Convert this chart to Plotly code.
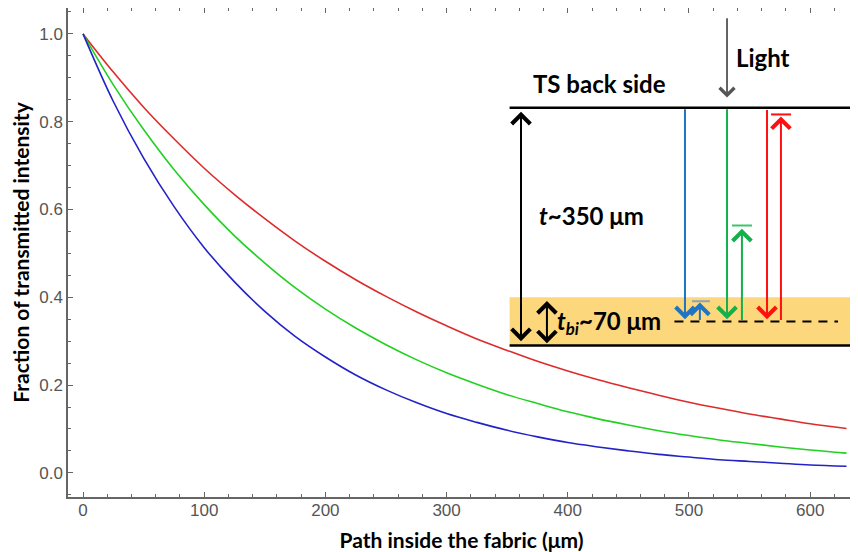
import plotly.graph_objects as go

# ---- data ----
path_um = [0, 25, 50, 75, 100, 125, 150, 175, 200, 225, 250, 275, 300, 325, 350,
           375, 400, 425, 450, 475, 500, 525, 550, 575, 600, 630]
red_frac = [1.000, 0.913, 0.833, 0.761, 0.694, 0.634, 0.579, 0.528, 0.482, 0.440,
            0.402, 0.367, 0.335, 0.305, 0.279, 0.254, 0.232, 0.212, 0.194, 0.177,
            0.161, 0.147, 0.134, 0.123, 0.112, 0.101]
green_frac = [1.000, 0.884, 0.782, 0.691, 0.611, 0.540, 0.478, 0.422, 0.373, 0.330,
              0.292, 0.258, 0.228, 0.202, 0.178, 0.158, 0.139, 0.123, 0.109, 0.096,
              0.085, 0.075, 0.067, 0.059, 0.052, 0.045]
blue_frac = [1.000, 0.846, 0.717, 0.607, 0.513, 0.435, 0.368, 0.311, 0.264, 0.223,
             0.189, 0.160, 0.135, 0.115, 0.097, 0.082, 0.069, 0.059, 0.050, 0.042,
             0.036, 0.030, 0.026, 0.022, 0.018, 0.015]
x_ticks = [0, 100, 200, 300, 400, 500, 600]
y_ticks = [0.0, 0.2, 0.4, 0.6, 0.8, 1.0]

fig = go.Figure()
for ys, col in [(red_frac, "#dd2b2b"), (green_frac, "#22d022"), (blue_frac, "#2222c8")]:
    fig.add_trace(go.Scatter(x=path_um, y=ys, mode="lines",
                             line=dict(color=col, width=1.6, shape="spline"),
                             showlegend=False, hoverinfo="skip"))

shapes = []
annots = []

# yellow band
shapes.append(dict(type="rect", xref="x", yref="y", x0=352, x1=633, y0=0.29, y1=0.40,
                   fillcolor="#fcd77c", line=dict(width=0), layer="above"))
# top and bottom black lines
shapes.append(dict(type="line", xref="x", yref="y", x0=352, x1=633, y0=0.832, y1=0.832,
                   line=dict(color="black", width=2.5)))
shapes.append(dict(type="line", xref="x", yref="y", x0=352, x1=633, y0=0.29, y1=0.29,
                   line=dict(color="black", width=2.5)))
# dashed line
shapes.append(dict(type="line", xref="x", yref="y", x0=488, x1=623, y0=0.345, y1=0.345,
                   line=dict(color="black", width=2, dash="9px,7px")))


def arrow(xt, yt, xs, ys, color, both=False, size=1.8, width=2):
    a = dict(x=xt, y=yt, ax=xs, ay=ys, xref="x", yref="y", axref="x", ayref="y",
             text="", showarrow=True, arrowhead=4, arrowsize=size, arrowwidth=width,
             arrowcolor=color, standoff=0, startstandoff=0)
    if both:
        a.update(arrowside="end+start", startarrowhead=4, startarrowsize=size)
    annots.append(a)


def cap(x0, x1, y, color):
    shapes.append(dict(type="line", xref="x", yref="y", x0=x0, x1=x1, y0=y, y1=y,
                       line=dict(color=color, width=2)))


# Light arrow
arrow(531.4, 0.855, 531.4, 1.039, "#555555", size=1.6, width=1.8)
# black thickness arrows
arrow(361.4, 0.300, 361.4, 0.826, "black", both=True)
arrow(382.8, 0.295, 382.8, 0.395, "black", both=True)

blue = "#1f74c4"
green = "#14b04c"
red = "#ff1010"
# blue
arrow(496.7, 0.350, 496.7, 0.832, blue)
arrow(509.0, 0.388, 509.0, 0.345, blue)
cap(502.5, 517.3, 0.391, "#8aa5bf")
# green
arrow(531.4, 0.350, 531.4, 0.832, green)
arrow(543.7, 0.556, 543.7, 0.345, green)
cap(535.5, 552.0, 0.5635, "#3cc46a")
# red
arrow(564.4, 0.350, 564.4, 0.830, red)
arrow(575.9, 0.812, 575.9, 0.345, red)
cap(567.7, 584.2, 0.8165, red)

tfont = dict(family="Lato, 'Open Sans', sans-serif", size=24, color="black")
annots += [
    dict(x=537, y=0.946, xref="x", yref="y", text="<b>Light</b>", showarrow=False,
         xanchor="left", yanchor="middle", font=tfont),
    dict(x=426.5, y=0.886, xref="x", yref="y", text="<b>TS back side</b>", showarrow=False,
         xanchor="center", yanchor="middle", font=tfont),
    dict(x=374.6, y=0.586, xref="x", yref="y", text="<b><i>t</i>~350 μm</b>", showarrow=False,
         xanchor="left", yanchor="middle", font=tfont),
    dict(x=389.4, y=0.343, xref="x", yref="y",
         text="<b><i>t<sub>bi</sub></i>~70 μm</b>", showarrow=False,
         xanchor="left", yanchor="middle", font=tfont),
]

axis_common = dict(showline=True, linecolor="#666666", linewidth=1.5, mirror="ticks",
                   ticks="inside", ticklen=5, tickwidth=1, tickcolor="#666666",
                   showgrid=False, zeroline=False, automargin=False,
                   tickfont=dict(family="Liberation Sans, Arial, sans-serif", size=17,
                                 color="#555555"))

# the page body adds an 8px offset, so the figure is 8px smaller and margins compensate
fig.update_layout(
    width=850, height=544,
    margin=dict(l=60, r=3, t=0, b=55),
    paper_bgcolor="white", plot_bgcolor="white",
    shapes=shapes, annotations=annots,
    xaxis=dict(range=[-12.4, 637], tickvals=x_ticks, ticklabelstandoff=-3,
               minor=dict(dtick=20, tick0=0, ticks="inside", ticklen=3, tickcolor="#666666"),
               title=dict(text="<b>Path inside the fabric (μm)</b>", standoff=19,
                          font=dict(family="Lato, sans-serif", size=21, color="black")),
               **axis_common),
    yaxis=dict(range=[-0.055, 1.059], tickvals=y_ticks, tickformat=".1f",
               minor=dict(dtick=0.05, tick0=0, ticks="inside", ticklen=3, tickcolor="#666666"),
               title=dict(text="<b>Fraction of transmitted intensity</b>", standoff=8,
                          font=dict(family="Lato, sans-serif", size=21, color="black")),
               **axis_common),
)

fig.write_html("out.html")
